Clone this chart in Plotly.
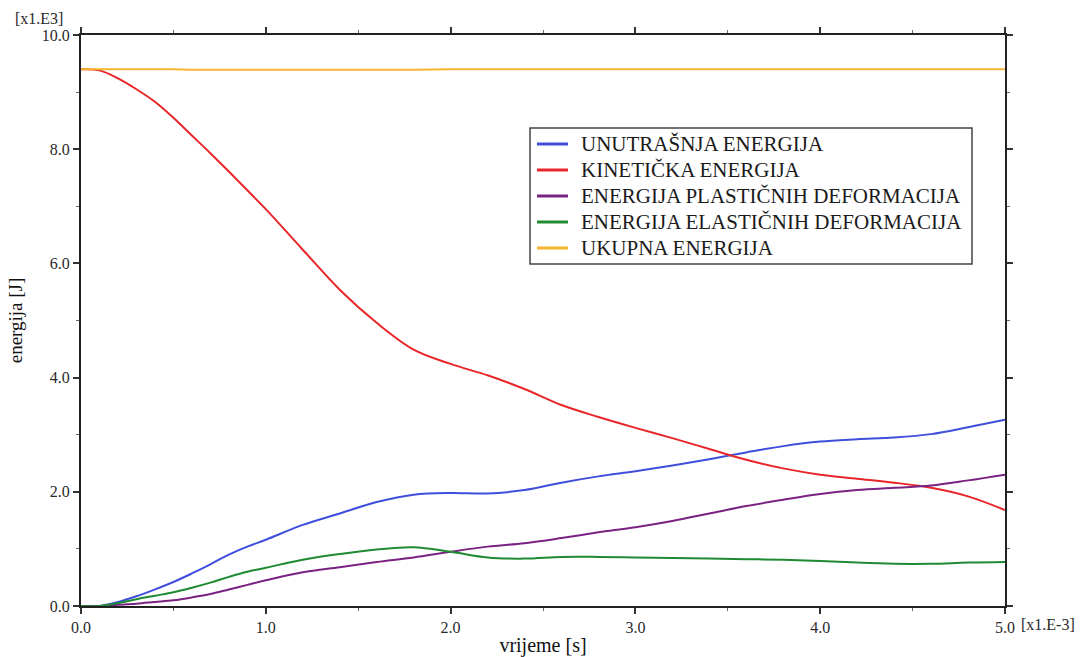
import plotly.graph_objects as go

t = [0.0, 0.1, 0.2, 0.3, 0.4, 0.5, 0.6, 0.7, 0.8, 0.9, 1.0, 1.2, 1.4, 1.6, 1.8, 2.0,
     2.2, 2.4, 2.6, 2.8, 3.0, 3.2, 3.4, 3.6, 3.8, 4.0, 4.2, 4.4, 4.6, 4.8, 5.0]

unutrasnja = [0.0, 0.0, 0.07, 0.17, 0.29, 0.42, 0.57, 0.73, 0.90, 1.04, 1.16, 1.42, 1.62, 1.82, 1.95, 1.98,
              1.97, 2.03, 2.16, 2.27, 2.36, 2.46, 2.57, 2.69, 2.80, 2.88, 2.92, 2.95, 3.01, 3.13, 3.26]

kineticka = [9.40, 9.38, 9.24, 9.05, 8.83, 8.55, 8.24, 7.93, 7.61, 7.28, 6.95, 6.24, 5.54, 4.96, 4.49, 4.24,
             4.04, 3.80, 3.52, 3.31, 3.12, 2.94, 2.75, 2.56, 2.41, 2.30, 2.23, 2.16, 2.07, 1.92, 1.68]

plasticne = [0.0, 0.0, 0.02, 0.04, 0.07, 0.10, 0.15, 0.21, 0.29, 0.37, 0.45, 0.59, 0.68, 0.77, 0.85, 0.95,
             1.04, 1.10, 1.19, 1.29, 1.38, 1.49, 1.62, 1.75, 1.86, 1.96, 2.03, 2.07, 2.11, 2.20, 2.30]

elasticne = [0.0, 0.0, 0.05, 0.12, 0.18, 0.24, 0.32, 0.41, 0.51, 0.60, 0.67, 0.81, 0.91, 0.99, 1.03, 0.95,
             0.85, 0.83, 0.86, 0.86, 0.85, 0.84, 0.83, 0.82, 0.81, 0.79, 0.76, 0.74, 0.74, 0.76, 0.77]

ukupna = [9.40, 9.40, 9.40, 9.40, 9.40, 9.40, 9.39, 9.39, 9.39, 9.39, 9.39, 9.39, 9.39, 9.39, 9.39, 9.40,
          9.40, 9.40, 9.40, 9.40, 9.40, 9.40, 9.40, 9.40, 9.40, 9.40, 9.40, 9.40, 9.40, 9.40, 9.40]

names = ["UNUTRAŠNJA ENERGIJA", "KINETIČKA ENERGIJA", "ENERGIJA PLASTIČNIH DEFORMACIJA",
         "ENERGIJA ELASTIČNIH DEFORMACIJA", "UKUPNA ENERGIJA"]
series = [unutrasnja, kineticka, plasticne, elasticne, ukupna]
colors = ["#3f4fdc", "#e8262a", "#7a2282", "#1e8a32", "#f6b530"]

FONT = "Liberation Serif, Times New Roman, serif"

W, H = 1086, 657
ML, MR, MT, MB = 81, 81, 35, 51
PW, PH = W - ML - MR, H - MT - MB


def px(x):
    return (x - ML) / PW


def py(y):
    return (H - MB - y) / PH


fig = go.Figure()
for n, s, c in zip(names, series, colors):
    fig.add_trace(go.Scatter(x=t, y=s, name=n, mode="lines", showlegend=False,
                             line=dict(color=c, width=2, shape="spline", smoothing=1.0)))

axis_common = dict(
    showline=True, linecolor="#222222", linewidth=2, mirror="ticks",
    ticks="outside", ticklen=6, tickwidth=1.5, tickcolor="#333333",
    showgrid=False, zeroline=False,
    tickfont=dict(family=FONT, size=16, color="#2a2a2a"),
    tickformat=".1f",
    minor=dict(ticks="outside", ticklen=3, tickcolor="#666666", tickwidth=1),
)

fig.update_xaxes(range=[0, 5], dtick=1, tick0=0, **axis_common,
                 title=dict(text="vrijeme [s]", font=dict(family=FONT, size=20, color="#111111"), standoff=4))
fig.update_yaxes(range=[0, 10], dtick=2, tick0=0, **axis_common,
                 title=dict(text="energija [J]", font=dict(family=FONT, size=19, color="#111111"), standoff=14))
fig.update_xaxes(minor_dtick=0.5)
fig.update_yaxes(minor_dtick=1)

fig.add_annotation(text="[x1.E3]", xref="paper", yref="paper", x=0, y=1,
                   xanchor="right", yanchor="bottom", xshift=-16, yshift=6, showarrow=False,
                   font=dict(family=FONT, size=16, color="#2a2a2a"))
fig.add_annotation(text="[x1.E-3]", xref="paper", yref="paper", x=1, y=0,
                   xanchor="left", yanchor="top", xshift=14, yshift=-8, showarrow=False,
                   font=dict(family=FONT, size=16, color="#2a2a2a"))

# legend box (drawn in the reference's style: compact rows, short line samples)
box_l, box_r, box_t, box_b = 530, 972, 128, 264
fig.add_shape(type="rect", xref="paper", yref="paper",
              x0=px(box_l), x1=px(box_r), y0=py(box_b), y1=py(box_t),
              line=dict(color="#444444", width=1.5), fillcolor="white", layer="above")
row0, drow = 144, 26
for i, (n, c) in enumerate(zip(names, colors)):
    yy = py(row0 + i * drow)
    fig.add_shape(type="line", xref="paper", yref="paper",
                  x0=px(537), x1=px(568), y0=yy, y1=yy,
                  line=dict(color=c, width=3), layer="above")
    fig.add_annotation(text=n, xref="paper", yref="paper", x=px(579), y=yy,
                       xanchor="left", yanchor="middle", showarrow=False,
                       font=dict(family=FONT, size=21, color="#1a1a1a"))

fig.update_layout(
    width=W, height=H,
    margin=dict(l=ML, r=MR, t=MT, b=MB, autoexpand=False),
    paper_bgcolor="white", plot_bgcolor="white",
    showlegend=False,
)

fig.write_html("out.html", config={"displayModeBar": False},
               post_script="document.body.style.margin='0';document.body.style.padding='0';")
